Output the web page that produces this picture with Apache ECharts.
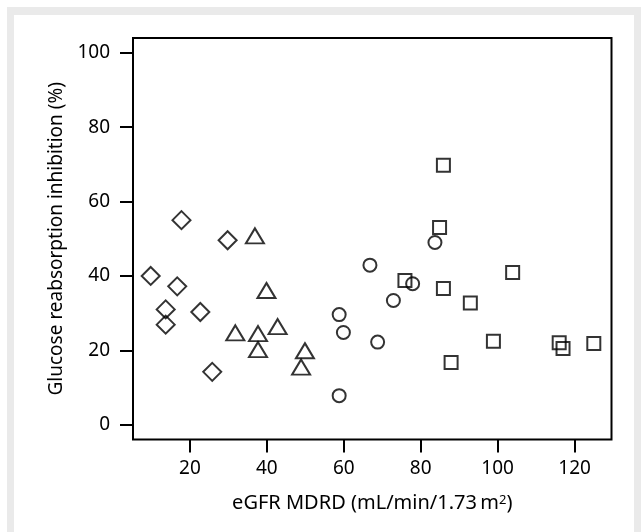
<!DOCTYPE html>
<html><head><meta charset="utf-8">
<script src="https://cdn.jsdelivr.net/npm/echarts@6/dist/echarts.min.js"></script>
<style>html,body{margin:0;padding:0;background:#fff}#c{width:641px;height:532px}</style>
</head><body><div id="c"></div>
<script>
// Data
const diamondX = [17.8, 29.8, 9.8, 16.7, 13.7, 13.7, 22.7, 25.8];
const diamondY = [55.0, 49.6, 40.0, 37.2, 31.0, 26.9, 30.3, 14.2];
const triangleX = [36.9, 39.9, 31.8, 37.7, 42.8, 37.7, 49.9, 48.9];
const triangleY = [50.1, 35.4, 24.0, 23.8, 25.7, 19.5, 19.2, 14.8];
const circleX = [83.7, 66.8, 77.9, 72.9, 58.8, 59.9, 68.8, 58.8];
const circleY = [49.0, 42.9, 37.9, 33.4, 29.6, 24.8, 22.2, 7.8];
const squareX = [85.9, 84.9, 75.9, 85.9, 103.9, 92.9, 98.9, 87.9, 116.0, 117.0, 125.0];
const squareY = [69.8, 53.0, 38.8, 36.6, 40.9, 32.7, 22.4, 16.7, 22.0, 20.5, 21.8];
const xTicks = [20, 40, 60, 80, 100, 120];
const yTicks = [0, 20, 40, 60, 80, 100];
const xTitle = 'eGFR MDRD (mL/min/1.73\u2009m{sup|2})';
const yTitle = 'Glucose reabsorption inhibition (%)';

function pairs(xs, ys) { return xs.map((x, i) => [x, ys[i]]); }
const font = '"Noto Sans", sans-serif';
const chart = echarts.init(document.getElementById('c'), null, {renderer: 'canvas'});
function series(symbol, size, xs, ys, offset) {
  return {
    type: 'scatter', symbol: symbol, symbolSize: size, symbolOffset: offset || [0, 0],
    data: pairs(xs, ys), silent: true,
    itemStyle: {color: 'rgba(0,0,0,0)', borderColor: '#000', borderWidth: 2},
    emphasis: {disabled: true}
  };
}
const axisCommon = {
  type: 'value', splitLine: {show: false},
  axisLine: {show: false, onZero: false},
  nameLocation: 'middle'
};
const option = {
  animation: false,
  graphic: [
    {type: 'rect', shape: {x: 7, y: 7, width: 634, height: 8}, style: {fill: '#eaeaea'}, z: -10},
    {type: 'rect', shape: {x: 7, y: 7, width: 7, height: 525}, style: {fill: '#eaeaea'}, z: -10},
    {type: 'rect', shape: {x: 634, y: 7, width: 7, height: 525}, style: {fill: '#eaeaea'}, z: -10}
  ],
  grid: {left: 133, top: 38, width: 478.5, height: 401.5, show: true,
         borderColor: '#000', borderWidth: 2, backgroundColor: 'rgba(0,0,0,0)'},
  xAxis: Object.assign({}, axisCommon, {
    min: 5.2, max: 129.6,
    axisTick: {show: true, length: 13, lineStyle: {color: '#000', width: 2}, customValues: xTicks},
    axisLabel: {customValues: xTicks, color: '#000', fontSize: 19, fontFamily: font, margin: 20},
    name: xTitle, nameGap: 54,
    nameTextStyle: {color: '#000', fontSize: 20, fontFamily: font,
      rich: {sup: {fontSize: 13, fontFamily: font, color: '#000', verticalAlign: 'top'}}}
  }),
  yAxis: Object.assign({}, axisCommon, {
    min: -4, max: 104,
    axisTick: {show: true, length: 13, lineStyle: {color: '#000', width: 2}, customValues: yTicks},
    axisLabel: {customValues: yTicks, color: '#000', fontSize: 19, fontFamily: font, margin: 23},
    name: yTitle, nameGap: 66, nameRotate: 90,
    nameTextStyle: {color: '#000', fontSize: 19, fontFamily: font}
  }),
  series: [
    series('diamond', [18, 18], diamondX, diamondY),
    series('triangle', [18, 15], triangleX, triangleY, [0, -2.5]),
    series('circle', 13, circleX, circleY),
    series('rect', 13, squareX, squareY)
  ]
};
chart.setOption(option);
</script></body></html>
